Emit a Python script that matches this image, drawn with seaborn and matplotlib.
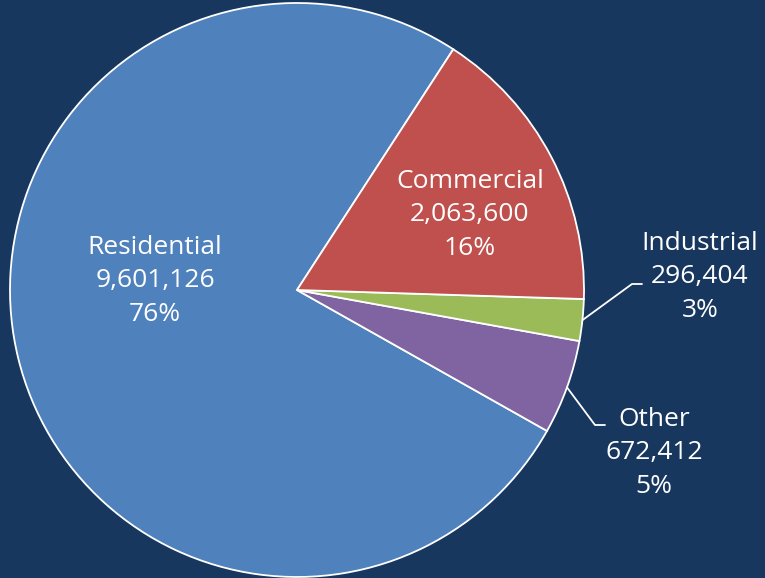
import numpy as np
import seaborn as sns
import matplotlib.pyplot as plt

# данные
categories = ["Residential", "Other", "Industrial", "Commercial"]
values = [9601126, 672412, 296404, 2063600]
value_labels = ["9,601,126", "672,412", "296,404", "2,063,600"]
pct_labels = ["76%", "5%", "3%", "16%"]
colors = ["#4F81BD", "#8064A2", "#9BBB59", "#C0504D"]

BG = "#17375E"

sns.set_style("white")
plt.rcParams["font.family"] = ["Open Sans", "DejaVu Sans"]

W, H = 765, 578
fig = plt.figure(figsize=(W / 100, H / 100), dpi=100, facecolor=BG)
ax = fig.add_axes([0, 0, 1, 1])
ax.set_facecolor(BG)

cx, cy, r = 297, H - 290, 287
wedges, _ = ax.pie(values, colors=colors, startangle=57, counterclock=True,
                   center=(cx, cy), radius=r,
                   wedgeprops=dict(edgecolor="white", linewidth=1.3))
ax.set_xlim(0, W)
ax.set_ylim(0, H)
ax.set_aspect("equal")
ax.axis("off")

# позиции подписей (в пикселях, y сверху)
label_pos = {
    "Residential": (155, 281),
    "Commercial": (470, 215),
    "Industrial": (700, 277),
    "Other": (654, 453),
}
# выноски: точка излома и конец
leaders = {
    "Industrial": [(632, 284), (642, 284)],
    "Other": [(595, 425), (605, 425)],
}

for w, cat, vl, pl in zip(wedges, categories, value_labels, pct_labels):
    px, py = label_pos[cat]
    ax.text(px, H - py, f"{cat}\n{vl}\n{pl}", color="white", fontsize=19,
            ha="center", va="center", linespacing=1.47)
    if cat in leaders:
        mid = np.deg2rad((w.theta1 + w.theta2) / 2)
        ex, ey = cx + r * np.cos(mid), cy + r * np.sin(mid)
        pts = [(ex, ey)] + [(x, H - y) for x, y in leaders[cat]]
        xs, ys = zip(*pts)
        ax.plot(xs, ys, color="white", lw=1.3)

fig.savefig("out.png", dpi=100, facecolor=BG)
